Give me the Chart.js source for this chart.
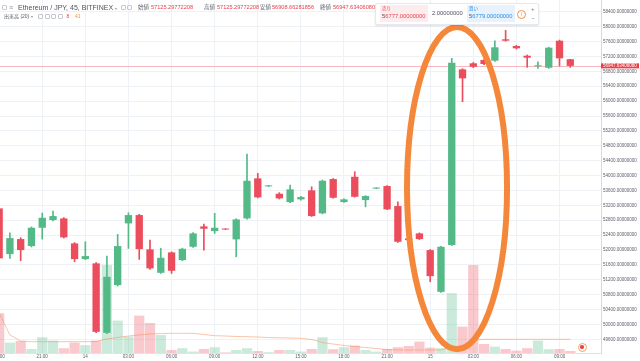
<!DOCTYPE html>
<html lang="ja">
<head>
<meta charset="UTF-8">
<title>Ethereum / JPY, 45, BITFINEX</title>
<script src="https://cdn.jsdelivr.net/npm/chart.js@4.4.1/dist/chart.umd.min.js"></script>
<style>
  body { margin: 0; background: #fff; }
  #wrap { position: relative; width: 640px; height: 361px; overflow: hidden;
          font-family: "Liberation Sans", "Noto Sans CJK JP", sans-serif; }
  #wrap .o { position: absolute; white-space: nowrap; line-height: 1; }
  .sq { width: 3px; height: 3px; border: 1px solid #c5c8cf; border-radius: 1px; }
  .lbl { color: #5d606b; font-size: 5.5px; }
  .val { color: #e8414c; font-size: 5.6px; }
</style>
</head>
<body>
<div id="wrap">
  <canvas id="chart" width="640" height="361"></canvas>

  <!-- 左上の凡例 -->
  <div class="o sq" style="left:2px;top:5px"></div>
  <div class="o" style="left:9px;top:3.5px;font-size:7px;color:#9598a1">≡</div>
  <div class="o" style="left:18px;top:3.8px;font-size:7px;color:#50535e">Ethereum / JPY, 45, BITFINEX <span style="font-size:4px;color:#9598a1">▾</span></div>
  <div class="o sq" style="left:121px;top:5px"></div>
  <div class="o sq" style="left:127px;top:5px"></div>
  <div class="o lbl" style="left:138px;top:4.5px">始値</div>
  <div class="o val" id="vOpen" style="left:151px;top:4.6px"></div>
  <div class="o lbl" style="left:204px;top:4.5px">高値</div>
  <div class="o val" id="vHigh" style="left:217px;top:4.6px"></div>
  <div class="o lbl" style="left:260px;top:4.5px">安値</div>
  <div class="o val" id="vLow" style="left:272px;top:4.6px"></div>
  <div class="o lbl" style="left:320px;top:4.5px">終値</div>
  <div class="o val" id="vClose" style="left:333px;top:4.6px"></div>

  <div class="o" style="left:4px;top:13.5px;font-size:5px;color:#5d606b">出来高 (20) <span style="font-size:3.5px;color:#9598a1">▾</span></div>
  <div class="o sq" style="left:38px;top:14px"></div>
  <div class="o sq" style="left:44.5px;top:14px"></div>
  <div class="o sq" style="left:51px;top:14px"></div>
  <div class="o sq" style="left:57.5px;top:14px"></div>
  <div class="o" style="left:66.5px;top:13.6px;font-size:5px;color:#e8414c">8</div>
  <div class="o" style="left:75px;top:13.6px;font-size:5px;color:#f7913d">41</div>

  <!-- 右上の売買ウィジェット -->
  <div class="o" style="left:375px;top:3px;width:162px;height:20px;background:#fff;border:1px solid #e6e8ee;border-radius:2px;box-shadow:0 1px 2px rgba(0,0,0,0.12)"></div>
  <div class="o" style="left:380px;top:5px;width:48px;height:17px;background:#fdeced"></div>
  <div class="o" style="left:382px;top:7px;font-size:4.5px;color:#e8414c">売り</div>
  <div class="o" style="left:382px;top:14px;font-size:5.8px;color:#e8414c"><span style="color:#50535e">5</span>6777.00000000</div>
  <div class="o" style="left:432px;top:11px;font-size:5.8px;color:#50535e">2.00000000</div>
  <div class="o" style="left:467px;top:5px;width:48px;height:17px;background:#e7f2fc"></div>
  <div class="o" style="left:469px;top:7px;font-size:4.5px;color:#2b8fe4">買い</div>
  <div class="o" style="left:469px;top:14px;font-size:5.8px;color:#2b8fe4"><span style="color:#50535e">5</span>6779.00000000</div>
  <div class="o" style="left:517px;top:9.5px;width:7px;height:7px;border:1px solid #f7913d;border-radius:50%;color:#f7913d;font-size:5px;text-align:center;line-height:7px">i</div>
  <div class="o" style="left:531px;top:6px;font-size:6px;color:#787b86">+</div>
  <div class="o" style="left:531.5px;top:15px;font-size:6px;color:#787b86">−</div>

  <!-- 右下のリアルタイムボタン -->
  <div class="o" style="left:577.5px;top:342.5px;width:7px;height:7px;border:1px solid #f5a35a;border-radius:50%;background:#fff"></div>
  <div class="o" style="left:580.3px;top:345.3px;width:3.4px;height:3.4px;border-radius:50%;background:#e8414c"></div>
</div>

<script>
    // 45分足 13日18:00 〜 15日09:45
    const labels = ['18:00','18:45','19:30','20:15','21:00','21:45','22:30','23:15',
        '14','00:45','01:30','02:15','03:00','03:45','04:30','05:15',
        '06:00','06:45','07:30','08:15','09:00','09:45','10:30','11:15',
        '12:00','12:45','13:30','14:15','15:00','15:45','16:30','17:15',
        '18:00','18:45','19:30','20:15','21:00','21:45','22:30','23:15',
        '15','00:45','01:30','02:15','03:00','03:45','04:30','05:15',
        '06:00','06:45','07:30','08:15','09:00','09:45'];

    const opens = [53118,51890,52293,52105,52597,52804,52849,52177,51755,51640,49774,51056,52715,52938,52016,51387,
        51935,51728,52086,52634,52508,52560,52285,52849,53924,53710,53511,53287,53360,53602,52984,53906,
        53287,53967,53341,53650,53718,53180,52310,52446,51997,50876,52132,56854,57016,57104,57086,57661,
        57481,57220,56935,56897,57623,57125.29772208];
    const highs = [53160,52462,52330,52620,52992,53046,52870,52200,52220,51660,51836,52419,53000,52960,52266,52043,
        51950,52050,52470,52696,52984,52565,52840,54578,54059,53730,53540,53744,53440,53699,53880,53920,
        53375,54102,53460,53670,53730,53295,52320,52460,52010,52100,57150,56870,57040,57120,57623,57900,
        57500,57240,57059,57450,57640,57125.29772208];
    const lows = [51740,51774,51710,52080,52293,52780,52320,51683,51740,49780,49750,51030,52043,51747,51480,51370,
        51371,51710,52070,51997,52446,52545,51817,52830,53400,53700,53370,53270,53340,52900,52970,53390,
        53275,53420,53161,53645,53080,52200,52260,52280,51145,50860,52120,55983,56900,56980,57070,57610,
        57400,56908,56881,56880,56943,56908.66281856];
    const closes = [51774,52320,51997,52597,52865,52911,52339,51755,51836,49801,51279,52105,52938,52024,51505,51790,
        51441,52032,52446,52570,52597,52550,52822,53860,53414,53725,53387,53629,53422,52911,53860,53403,
        53360,53430,53449,53665,53091,52220,52265,52293,51298,52086,57032,56612,56924,56997,57446,57623,
        57419,57166,56950,57435,57150,56947.6340608];

    const volumes = [19.9,5.2,6.0,2.0,7.9,6.2,2.4,5.2,3.9,6.2,44.0,16.2,8.2,18.7,15.0,9.0,
        1.5,2.4,0.7,2.0,2.9,0.3,1.5,2.4,1.0,0.4,1.5,1.5,0.7,2.0,7.9,1.9,
        2.9,3.7,1.5,0.7,2.0,2.9,3.5,5.7,2.7,2.4,29.9,13.2,44.0,4.5,3.2,2.0,
        1.2,2.4,6.2,1.9,2.0,1.0];
    const volumeMA = [20,9,6,5.65,5.65,5.65,5.65,5.65,5.65,5.75,7,7.75,8.5,9,9.5,9.75,
        9.85,9.85,9.85,9.25,8.65,8.5,8.25,8.15,8,7.75,7.6,7.5,7.35,6.75,5.25,4.5,
        3.75,3.25,2.75,2.25,1.75,1.5,1.5,1.5,1.5,1.5,3,3.75,6.5,6.85,6.85,6.85,
        6.85,6.85,6.85,6.85,6.85,6.85];

    const yTicks = [49600,50000,50400,50800,51200,51600,52000,52400,52800,53200,53600,54000,
        54400,54800,55200,55600,56000,56400,56800,57200,57600,58000,58400];

    // 手書きの楕円 (中心と半径はデータ座標)
    const note = { x: 42.49, y: 53664, rx: 4.64, ry: 4328 };

    const GREEN = '#53b987';
    const RED = '#eb4d5c';
    const isUp = i => closes[i] >= opens[i];
    const idx = labels.map((_, i) => i);
    const last = closes.length - 1;

    document.getElementById('vOpen').textContent = opens[last].toFixed(8);
    document.getElementById('vHigh').textContent = highs[last].toFixed(8);
    document.getElementById('vLow').textContent = lows[last].toFixed(8);
    document.getElementById('vClose').textContent = closes[last].toFixed(8);

    const overlay = {
        id: 'overlay',
        beforeDatasetsDraw(chart) {
            const {ctx, chartArea: a, scales: {y}} = chart;
            const py = Math.round(y.getPixelForValue(closes[last])) + 0.5;
            ctx.save();
            ctx.strokeStyle = 'rgba(235,77,92,0.4)';
            ctx.lineWidth = 1;
            ctx.beginPath();
            ctx.moveTo(a.left, py);
            ctx.lineTo(a.right, py);
            ctx.stroke();
            ctx.restore();
        },
        afterDatasetsDraw(chart) {
            const {ctx, scales: {x, y}} = chart;
            const cx = x.getPixelForValue(note.x);
            const cy = y.getPixelForValue(note.y);
            const rx = Math.abs(x.getPixelForValue(note.x + note.rx) - cx);
            const ry = Math.abs(y.getPixelForValue(note.y + note.ry) - cy);
            ctx.save();
            ctx.strokeStyle = '#f5873a';
            ctx.lineWidth = 6;
            ctx.beginPath();
            ctx.ellipse(cx, cy, rx, ry, 0, 0, Math.PI * 2);
            ctx.stroke();
            ctx.restore();
        },
        afterDraw(chart) {
            // 現在値のラベル
            const {ctx, chartArea: a, scales: {y}} = chart;
            const py = y.getPixelForValue(closes[last]);
            ctx.save();
            ctx.fillStyle = '#e8414c';
            ctx.fillRect(a.right, py - 2.5, chart.width - a.right - 1, 5);
            ctx.fillStyle = '#fff';
            ctx.font = '4.5px "Liberation Sans"';
            ctx.textBaseline = 'middle';
            ctx.fillText(closes[last].toFixed(8), a.right + 2, py);
            ctx.restore();
        }
    };

    new Chart(document.getElementById('chart'), {
        type: 'bar',
        data: {
            datasets: [{
                label: '実体',
                data: idx.map(i => ({x: i, y: [opens[i], closes[i]]})),
                backgroundColor: c => isUp(c.dataIndex) ? GREEN : RED,
                barPercentage: 0.68,
                categoryPercentage: 1,
                minBarLength: 1,
                grouped: false,
                order: 0
            }, {
                label: 'ヒゲ',
                data: idx.map(i => ({x: i, y: [lows[i], highs[i]]})),
                backgroundColor: c => isUp(c.dataIndex) ? GREEN : RED,
                barThickness: 1,
                grouped: false,
                order: 1
            }, {
                type: 'line',
                label: '出来高 MA',
                data: idx.map(i => ({x: i, y: volumeMA[i]})),
                yAxisID: 'yv',
                borderColor: 'rgba(247,140,80,0.5)',
                borderWidth: 1,
                pointRadius: 0,
                order: 2
            }, {
                label: '出来高',
                data: idx.map(i => ({x: i, y: volumes[i]})),
                yAxisID: 'yv',
                backgroundColor: c => isUp(c.dataIndex) ? 'rgba(83,185,135,0.3)' : 'rgba(235,77,92,0.3)',
                barPercentage: 0.95,
                categoryPercentage: 1,
                grouped: false,
                order: 3
            }]
        },
        options: {
            responsive: false,
            animation: false,
            layout: { padding: 0 },
            plugins: { legend: { display: false }, tooltip: { enabled: false } },
            scales: {
                x: {
                    type: 'linear',
                    offset: false,
                    min: 0.08,
                    max: 55.85,
                    afterBuildTicks: s => { s.ticks = idx.filter(i => i % 4 === 0).map(v => ({value: v})); },
                    ticks: {
                        callback: v => labels[v],
                        font: { size: 4.5, family: 'Liberation Sans' },
                        color: '#5d606b',
                        padding: 1,
                        maxRotation: 0,
                        autoSkip: false
                    },
                    grid: { color: '#eef1f6', drawTicks: false, offset: false },
                    border: { color: '#e0e3eb' },
                    afterFit: s => { s.height = 8; s.paddingLeft = 0; s.paddingRight = 0; }
                },
                y: {
                    position: 'right',
                    min: 49232,
                    max: 58717,
                    afterBuildTicks: s => { s.ticks = yTicks.map(v => ({value: v})); },
                    ticks: {
                        callback: v => v.toFixed(8),
                        font: { size: 4.5, family: 'Liberation Sans' },
                        color: '#5d606b',
                        padding: 2
                    },
                    grid: { color: '#eef1f6', drawTicks: false },
                    border: { color: '#d6d9e0' },
                    afterFit: s => { s.width = 39; s.paddingTop = 0; s.paddingBottom = 0; }
                },
                yv: {
                    display: false,
                    min: 0,
                    max: 176.5
                }
            }
        },
        plugins: [overlay]
    });
</script>
</body>
</html>
